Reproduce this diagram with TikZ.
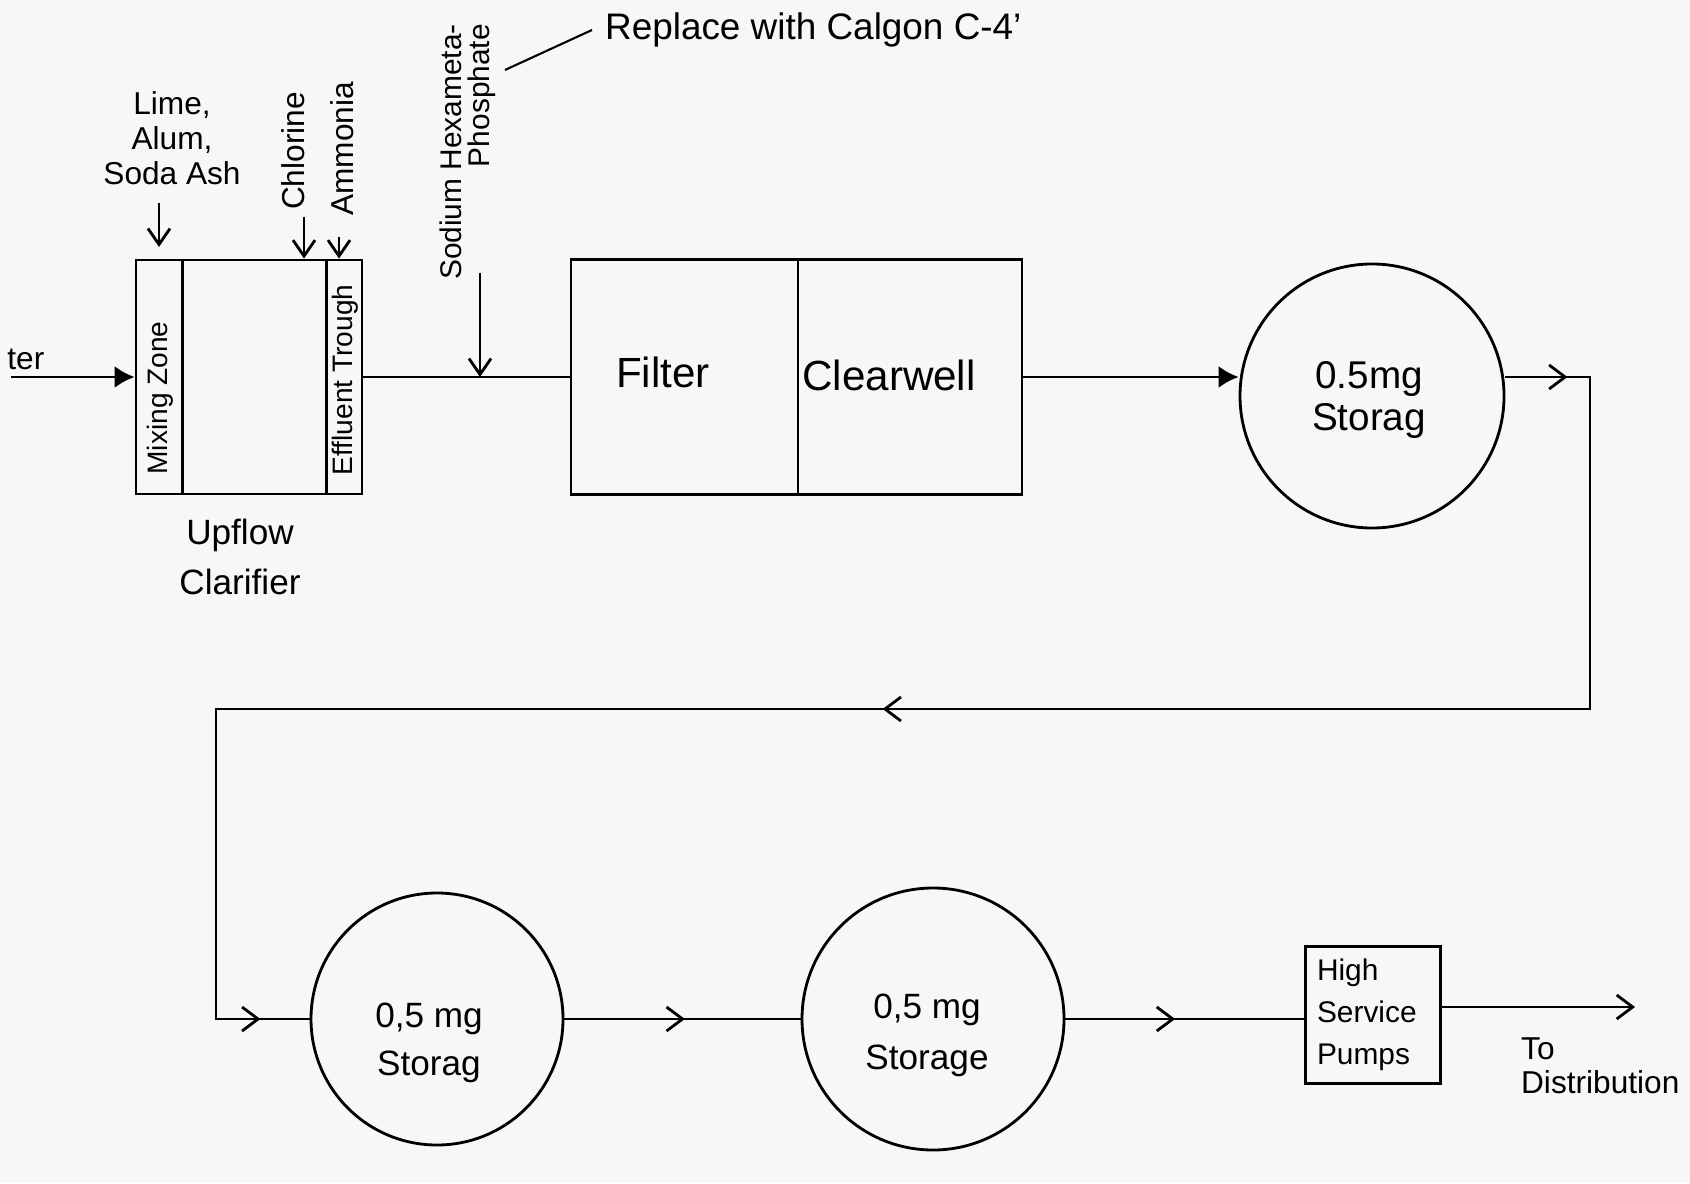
\documentclass[tikz,border=0pt]{standalone}
\usepackage{fontspec}
\setmainfont{Liberation Sans}
\usetikzlibrary{arrows.meta,decorations.markings}
\definecolor{paper}{gray}{0.97}
\tikzset{barb/.tip={Straight Barb[length=1.6mm,width=2.4mm]}}

\begin{document}
\begin{tikzpicture}[line width=0.8pt,
    box/.style={draw,minimum height=2.35cm,inner sep=0pt},
    tank/.style={draw,circle,inner sep=0pt,minimum size=#1},
    feed/.style={-{Straight Barb[length=1.6mm,width=2.2mm]}},
    inflow/.style={-{Latex[length=2mm,width=2.2mm]}},
    midarrow/.style={postaction={decorate},decoration={markings,mark=at position #1 with {\arrow{barb}}}},
    midarrow/.default=0.5]
\fill[paper] (0,0) rectangle (16.9,11.83);
\useasboundingbox (0,0) rectangle (16.9,11.83);
% clarifier
    \node[box,minimum width=2.26cm,minimum height=2.34cm] (clar) at (2.49,8.06) {};
    \draw ([xshift=0.48cm]clar.north west) -- ([xshift=0.48cm]clar.south west);
    \draw ([xshift=-0.37cm]clar.north east) -- ([xshift=-0.37cm]clar.south east);
    \node[rotate=90,font=\fontsize{8}{8}\selectfont] (mixz) at (1.60,7.85) {Mixing Zone};
    \node[rotate=90,font=\fontsize{8}{8}\selectfont] (trough) at (3.45,8.03) {Effluent Trough};
    \node[align=center,font=\fontsize{10}{14}\selectfont] (upflow) at (2.40,6.26) {Upflow\\Clarifier};
    \node[anchor=west,inner sep=0pt,font=\fontsize{9}{9}\selectfont] (rawlbl) at (0.06,8.24) {ter};
    \coordinate (rawin) at (0.11,8.06);
    \draw[inflow] (rawin) -- (clar.west);
% chemicals
    \node[align=center,font=\fontsize{9}{10}\selectfont] (lime) at (1.72,10.45) {Lime,\\Alum,\\Soda Ash};
    \node[rotate=90,font=\fontsize{9}{9}\selectfont] (chlor) at (2.93,10.32) {Chlorine};
    \node[rotate=90,font=\fontsize{9}{9}\selectfont] (ammo) at (3.42,10.34) {Ammonia};
    \node[rotate=90,align=right,font=\fontsize{8.5}{8}\selectfont] (shmp) at (4.68,10.31) {Sodium Hexameta-\\Phosphate};
    \node[anchor=west,font=\fontsize{10.5}{11}\selectfont] (calgon) at (5.92,11.53) {Replace with Calgon C-4'};
    \coordinate (shmplead) at (5.05,11.13);
    \draw[line width=0.6pt] (shmplead) -- (calgon.west);
    \foreach \c/\x/\y in {limeA/1.59/9.80, chlorA/3.04/9.66, ammoA/3.39/9.46, shmpA/4.80/9.10}{
        \coordinate (\c) at (\x,\y);
    }
    \draw[feed] (limeA) -- ++(0,-0.44);
    \draw[feed] (chlorA) -- (chlorA |- clar.north);
    \draw[feed] (ammoA) -- (ammoA |- clar.north);
    \draw[feed] (shmpA) -- (shmpA |- clar.east);
% filter and clearwell
    \node[box,minimum width=2.27cm] (filt) at (6.845,8.06) {};
    \node[box,minimum width=2.24cm] (clw) at (9.10,8.06) {};
    \node[font=\fontsize{12}{12}\selectfont] (filtlbl) at (6.63,8.11) {Filter};
    \node[font=\fontsize{12}{12}\selectfont] (clwlbl) at (8.89,8.08) {Clearwell};
    \draw (clar.east) -- (filt.west);
% storage
    \node[tank=2.64cm] (tankA) at (13.72,7.87) {};
    \node[tank=2.52cm] (tankB) at (4.37,1.64) {};
    \node[tank=2.62cm] (tankC) at (9.33,1.64) {};
    \node[align=center,font=\fontsize{11}{12}\selectfont] (tankAlbl) at (13.69,7.83) {0.5mg\\Storag};
    \node[align=center,font=\fontsize{10}{13.5}\selectfont] (tankBlbl) at (4.29,1.40) {0,5 mg\\Storag};
    \node[align=center,font=\fontsize{10}{14.5}\selectfont] (tankClbl) at (9.27,1.48) {0,5 mg\\Storage};
    \draw[inflow] (clw.east) -- (clw.east -| tankA.west);
% return loop
    \coordinate (bendA) at (15.90,8.06);
    \coordinate (bendB) at (15.90,4.74);
    \coordinate (bendC) at (2.16,4.74);
    \coordinate (bendD) at (2.16,1.64);
    \draw[postaction={decorate},decoration={markings,
        mark=at position 0.62cm with {\arrow{barb}},
        mark=at position 11.24cm with {\arrow{barb}},
        mark=at position 21.45cm with {\arrow{barb}}}]
        (tankA.east |- bendA) -- (bendA) -- (bendB) -- (bendC) -- (bendD) -- (bendD -| tankB.west);
% pumps
    \node[draw,minimum width=1.32cm,minimum height=1.37cm,text width=1.12cm,align=left,
        font=\fontsize{8.5}{12}\selectfont] (pumps) at (13.73,1.68) {High\\Service\\Pumps};
    \draw[midarrow=0.51] (tankB) -- (tankC);
    \draw[midarrow=0.46] (tankC.east) -- (tankC.east -| pumps.west);
    \coordinate (dist) at (16.35,1.76);
    \draw[-barb] (pumps.east |- dist) -- (dist);
    \node[anchor=north west,align=left,font=\fontsize{9}{9.5}\selectfont] (distlbl) at (15.08,1.58) {To\\Distribution};
\end{tikzpicture}
\end{document}
